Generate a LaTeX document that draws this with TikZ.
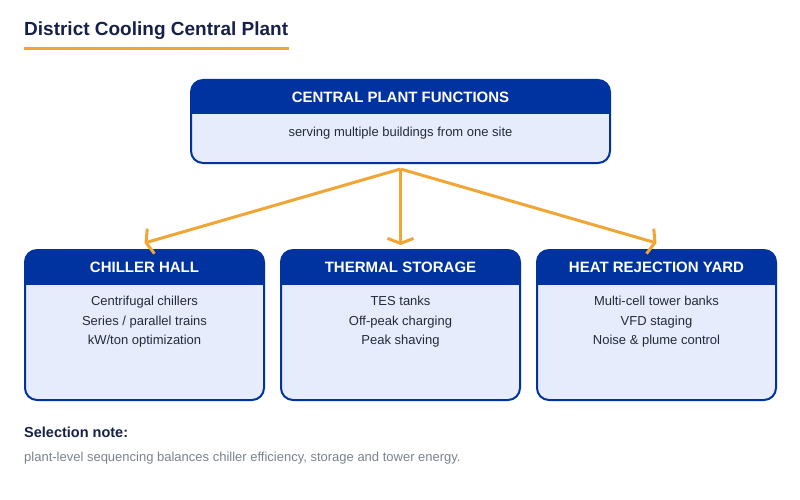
\documentclass[tikz,border=0pt]{standalone}
\usepackage{fontspec}
\setmainfont{Liberation Sans}
\usetikzlibrary{arrows.meta}
\definecolor{navy}{RGB}{0,51,160}
\definecolor{pale}{RGB}{230,236,252}
\definecolor{ttl}{RGB}{22,32,72}
\definecolor{bodytxt}{RGB}{34,42,60}
\definecolor{orng}{RGB}{240,165,52}
\definecolor{note}{RGB}{122,130,142}
\tikzset{
  box/.style={draw=navy, line width=2pt, fill=pale, rounded corners=12pt, inner sep=0pt,
    path picture={\fill[navy, sharp corners] (path picture bounding box.north west) rectangle ([yshift=-34.5pt]path picture bounding box.north east);}},
  hdr/.style={text=white, font=\fontsize{15}{18}\selectfont\bfseries, inner sep=0pt, anchor=base},
  bodyt/.style={text=bodytxt, font=\fontsize{13}{19.4}\selectfont, inner sep=0pt, align=center, anchor=north},
  flow/.style={draw=orng, line width=3pt, -{Straight Barb[length=5pt,width=26pt]}}
}
\begin{document}
\begin{tikzpicture}[x=1pt,y=-1pt]
\useasboundingbox (0,0) rectangle (800,500);
% title
\node[anchor=base west, inner sep=0pt, text=ttl, font=\fontsize{19}{22}\selectfont\bfseries] (title) at (24,36) {District Cooling Central Plant};
\draw[orng, line width=3pt] (24,48.5) -- (289,48.5);
% top box
\node[box, minimum width=419pt, minimum height=83pt] (central) at (400.5,121.5) {};
\node[hdr] (centralT) at (400.5,103) {CENTRAL PLANT FUNCTIONS};
\node[bodyt, anchor=base] (centralB) at (400.5,136) {serving multiple buildings from one site};
% bottom boxes
\node[box, minimum width=239pt, minimum height=150pt] (chiller) at (144.5,325) {};
\node[box, minimum width=239pt, minimum height=150pt] (storage) at (400.5,325) {};
\node[box, minimum width=239pt, minimum height=150pt] (yard) at (656.5,325) {};
\node[hdr] (chillerT) at (144.5,272.5) {CHILLER HALL};
\node[hdr] (storageT) at (400.5,272.5) {THERMAL STORAGE};
\node[hdr] (yardT) at (656.5,272.5) {HEAT REJECTION YARD};
\node[bodyt] (chillerB) at (144.5,296) {Centrifugal chillers\\Series / parallel trains\\kW/ton optimization};
\node[bodyt] (storageB) at (400.5,296) {TES tanks\\Off-peak charging\\Peak shaving};
\node[bodyt] (yardB) at (656.5,296) {Multi-cell tower banks\\VFD staging\\Noise \& plume control};
% connectors
\coordinate (hub) at ([yshift=-5pt]central.south);
\draw[flow] (hub) -- ([yshift=6pt]chiller.north);
\draw[flow] (hub) -- ([yshift=4pt]storage.north);
\draw[flow] (hub) -- ([yshift=6pt]yard.north);
% note
\node[anchor=base west, inner sep=0pt, text=ttl, font=\fontsize{14.5}{17}\selectfont\bfseries] (noteH) at (24,437.7) {Selection note:};
\node[anchor=base west, inner sep=0pt, text=note, font=\fontsize{13}{16}\selectfont] (noteB) at (24,461) {plant-level sequencing balances chiller efficiency, storage and tower energy.};
\end{tikzpicture}
\end{document}
